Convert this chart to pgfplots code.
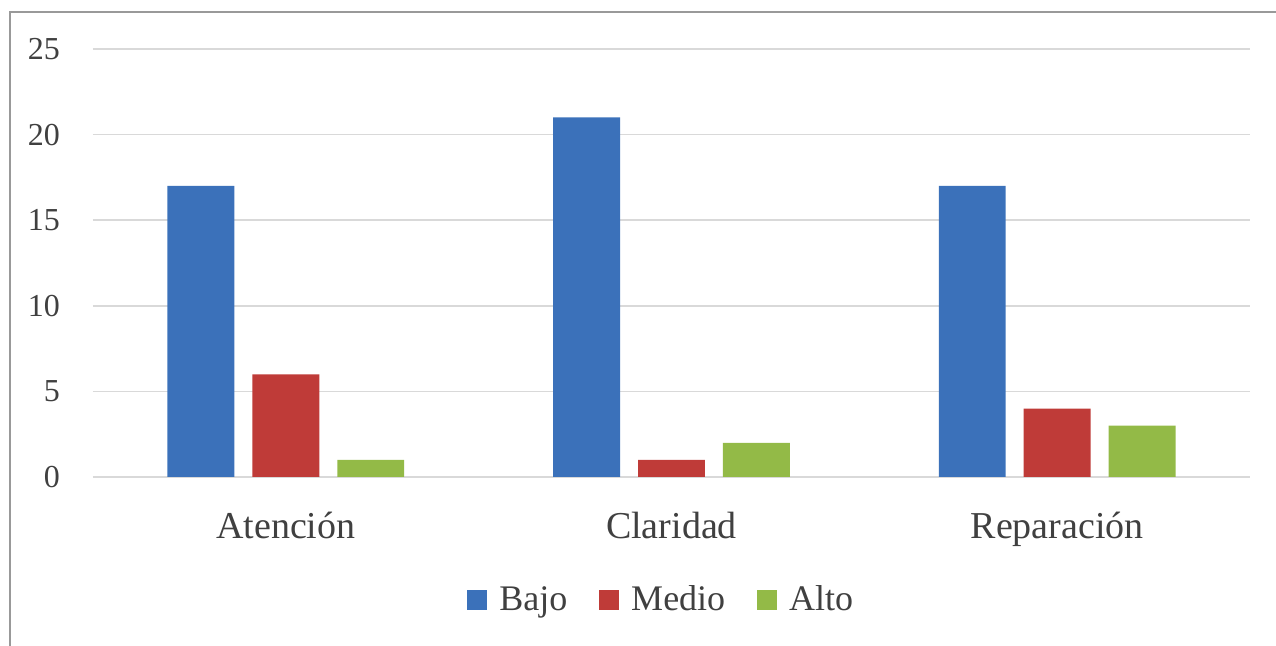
\documentclass[border=0pt]{standalone}
\usepackage{fontspec}
\setmainfont{Liberation Serif}
\usepackage{pgfplots}
\pgfplotsset{compat=1.18}
\definecolor{cBajo}{HTML}{3B71BA}
\definecolor{cMedio}{HTML}{BF3B38}
\definecolor{cAlto}{HTML}{93BA47}
\definecolor{grd}{HTML}{D9D9D9}
\definecolor{txt}{HTML}{404040}
\begin{document}
\begin{tikzpicture}[x=1pt,y=1pt]
\path[use as bounding box] (0,0) rectangle (638,323);
\draw[color=gray!80, line width=0.8pt] (5,0) -- (5,317) -- (640,317);
\begin{axis}[
  at={(46.5pt,84.5pt)}, anchor=south west,
  scale only axis, width=578.5pt, height=214pt,
  xmin=-0.5, xmax=2.5, ymin=0, ymax=25,
  xtick={0,1,2}, xticklabels={Atención,Claridad,Reparación},
  ytick={0,5,10,15,20,25},
  axis x line*=bottom, axis y line*=left,
  x axis line style={draw=grd, line width=0.8pt},
  y axis line style={draw=none},
  ymajorgrids, grid style={draw=grd, line width=0.8pt},
  major tick length=0pt,
  /pgf/number format/assume math mode=true,
  yticklabel style={font=\fontsize{16}{19}\selectfont, text=txt, anchor=east, xshift=-13pt},
  xticklabel style={font=\fontsize{19}{22}\selectfont, text=txt, yshift=-14pt},
  clip=false,
  legend style={draw=none, at={(0.492,-0.287)}, anchor=center, legend columns=-1,
    font=\fontsize{18}{21}\selectfont, text=txt,
    /tikz/every odd column/.append style={column sep=4pt},
    /tikz/every even column/.append style={column sep=14pt}},
  legend image code/.code={\fill[#1] (0pt,-5pt) rectangle (10pt,5pt);},
]
\addplot[ybar, bar width=0.1736, bar shift=-0.2202, fill=cBajo, draw=none] coordinates {(0,17) (1,21) (2,17)};
\addplot[ybar, bar width=0.1736, bar shift=0, fill=cMedio, draw=none] coordinates {(0,6) (1,1) (2,4)};
\addplot[ybar, bar width=0.1736, bar shift=0.2202, fill=cAlto, draw=none] coordinates {(0,1) (1,2) (2,3)};
\legend{Bajo,Medio,Alto}
\end{axis}
\end{tikzpicture}
\end{document}
